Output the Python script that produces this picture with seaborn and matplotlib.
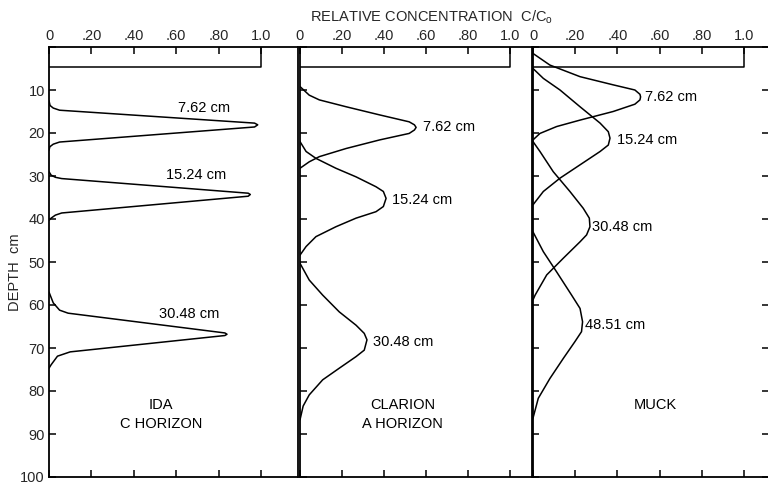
import matplotlib
matplotlib.use("Agg")
import matplotlib.pyplot as plt
import seaborn as sns
import pandas as pd

# ---------------- data ----------------
conc_ticks = [0, 0.2, 0.4, 0.6, 0.8, 1.0]
conc_ticklabels = ["0", ".20", ".40", ".60", ".80", "1.0"]
depth_ticks = [0, 10, 20, 30, 40, 50, 60, 70, 80, 90, 100]
depth_ticklabels = ["", "10", "20", "30", "40", "50", "60", "70", "80", "90", "100"]

# applied input pulse (box at top of each panel)
box_conc = [0.0, 1.0, 1.0]
box_depth = [4.6, 4.6, 0.0]

# IDA C horizon
ida_762_depth = [12.5, 13.6, 14.2, 14.7, 17.7, 18.1, 18.6, 22.1, 22.6, 23.2, 24.0]
ida_762_conc = [0.0, 0.005, 0.02, 0.05, 0.97, 0.985, 0.97, 0.05, 0.02, 0.004, 0.0]
ida_1524_depth = [29.0, 29.8, 30.3, 30.6, 34.0, 34.3, 34.7, 38.6, 39.1, 39.8, 40.3]
ida_1524_conc = [0.0, 0.01, 0.03, 0.06, 0.94, 0.95, 0.94, 0.06, 0.03, 0.01, 0.0]
ida_3048_depth = [57.0, 59.5, 61.2, 61.9, 66.5, 66.8, 67.1, 70.9, 71.9, 73.9, 74.7]
ida_3048_conc = [0.0, 0.02, 0.05, 0.09, 0.83, 0.84, 0.83, 0.10, 0.04, 0.01, 0.0]

# CLARION A horizon
cla_762_depth = [9.2, 11.2, 12.3, 13.9, 15.8, 17.4, 18.1, 18.7, 19.3, 20.1, 21.6, 23.6, 25.5, 26.7, 28.2]
cla_762_conc = [0.0, 0.044, 0.092, 0.22, 0.38, 0.52, 0.545, 0.553, 0.545, 0.52, 0.38, 0.22, 0.092, 0.044, 0.0]
cla_1524_depth = [22.0, 24.3, 25.9, 28.2, 30.2, 32.5, 33.6, 35.2, 37.1, 38.3, 39.8, 41.8, 44.1, 46.4, 48.4]
cla_1524_conc = [0.0, 0.029, 0.076, 0.171, 0.267, 0.362, 0.397, 0.41, 0.397, 0.362, 0.267, 0.171, 0.076, 0.029, 0.0]
cla_3048_depth = [50.3, 54.2, 57.7, 61.6, 64.7, 66.6, 68.1, 70.5, 72.0, 74.7, 77.4, 80.9, 83.5, 86.7]
cla_3048_conc = [0.0, 0.044, 0.108, 0.187, 0.267, 0.306, 0.319, 0.306, 0.267, 0.187, 0.108, 0.044, 0.015, 0.0]

# MUCK
muck_762_depth = [1.5, 4.2, 6.9, 8.8, 10.0, 11.0, 11.6, 12.3, 13.3, 15.0, 17.0, 18.5, 20.1, 21.6]
muck_762_conc = [0.0, 0.08, 0.223, 0.38, 0.483, 0.507, 0.51, 0.507, 0.483, 0.38, 0.223, 0.112, 0.033, 0.0]
muck_1524_depth = [5.0, 7.3, 10.0, 13.9, 17.7, 19.7, 21.2, 22.8, 24.3, 27.4, 30.5, 33.6, 36.7]
muck_1524_conc = [0.0, 0.049, 0.128, 0.223, 0.318, 0.357, 0.365, 0.357, 0.318, 0.223, 0.128, 0.049, 0.0]
muck_3048_depth = [22.0, 24.3, 29.0, 33.6, 37.5, 39.8, 41.8, 43.7, 45.3, 49.1, 53.0, 57.7, 58.8]
muck_3048_conc = [0.0, 0.033, 0.096, 0.175, 0.238, 0.267, 0.27, 0.254, 0.223, 0.144, 0.065, 0.01, 0.0]
muck_4851_depth = [43.0, 47.6, 52.3, 57.7, 60.8, 63.9, 66.2, 68.5, 72.4, 77.1, 81.7, 86.3]
muck_4851_conc = [0.0, 0.049, 0.112, 0.183, 0.223, 0.235, 0.23, 0.199, 0.144, 0.08, 0.025, 0.0]

panels = [
    {"curves": [(ida_762_depth, ida_762_conc, "7.62 cm", 0.61, 14.3),
                (ida_1524_depth, ida_1524_conc, "15.24 cm", 0.55, 29.8),
                (ida_3048_depth, ida_3048_conc, "30.48 cm", 0.52, 62.0)],
     "name": ("IDA", "C HORIZON"), "name_x": 0.53,
     "xmax": 1.175, "rect": [49, 249]},
    {"curves": [(cla_762_depth, cla_762_conc, "7.62 cm", 0.585, 18.6),
                (cla_1524_depth, cla_1524_conc, "15.24 cm", 0.44, 35.6),
                (cla_3048_depth, cla_3048_conc, "30.48 cm", 0.35, 68.6)],
     "name": ("CLARION", "A HORIZON"), "name_x": 0.49,
     "xmax": 1.105, "rect": [300, 232]},
    {"curves": [(muck_762_depth, muck_762_conc, "7.62 cm", 0.53, 11.6),
                (muck_1524_depth, muck_1524_conc, "15.24 cm", 0.40, 21.6),
                (muck_3048_depth, muck_3048_conc, "30.48 cm", 0.28, 41.9),
                (muck_4851_depth, muck_4851_conc, "48.51 cm", 0.245, 64.7)],
     "name": ("MUCK",), "name_x": 0.58,
     "xmax": 1.114, "rect": [533, 235]},
]

# ---------------- plot ----------------
sns.set_theme(style="white")
plt.rcParams["font.family"] = ["Liberation Sans", "DejaVu Sans"]
plt.rcParams["axes.linewidth"] = 1.3

W, H = 768, 484
fig = plt.figure(figsize=(W / 100, H / 100), dpi=100)
top_px, bot_px = 47, 477
fs = 10.5

for i, p in enumerate(panels):
    left, width = p["rect"]
    ax = fig.add_axes([left / W, (H - bot_px) / H, width / W, (bot_px - top_px) / H])
    box_df = pd.DataFrame({"conc": box_conc, "depth": box_depth})
    sns.lineplot(data=box_df, x="conc", y="depth", sort=False, estimator=None,
                 color="black", lw=1.1, ax=ax)
    for depth, conc, lab, lx, ly in p["curves"]:
        df = pd.DataFrame({"conc": conc, "depth": depth})
        sns.lineplot(data=df, x="conc", y="depth", sort=False, estimator=None,
                     color="black", lw=1.1, ax=ax)
        ax.text(lx, ly, lab, ha="left", va="center", fontsize=fs, color="black")
    for k, nm in enumerate(p["name"]):
        ax.text(p["name_x"], 83.3 + 4.4 * k, nm, ha="center", va="center",
                fontsize=fs, color="black")
    ax.set_xlim(0, p["xmax"])
    ax.set_ylim(100, 0)
    ax.set_xlabel("")
    ax.set_ylabel("")
    ax.set_xticks(conc_ticks)
    ax.set_xticklabels(conc_ticklabels, fontsize=fs)
    ax.tick_params(axis="x", top=True, bottom=True, labeltop=True, labelbottom=False,
                   direction="in", length=5, width=1.1, pad=3, color="black")
    ax.set_yticks(depth_ticks)
    if i == 0:
        ax.set_yticklabels(depth_ticklabels, fontsize=fs)
        ax.tick_params(axis="y", left=True, labelleft=True, direction="in",
                       length=5, width=1.1, pad=3, color="black")
    else:
        ax.tick_params(axis="y", left=True, labelleft=False, direction="in",
                       length=5, width=1.1, color="black")
    if i == 2:
        ax.spines["right"].set_visible(False)
        ax.tick_params(axis="y", right=True, direction="in", length=4, width=1.1)
    for s in ax.spines.values():
        s.set_color("black")
    ax.set_facecolor("white")

fig.text(432 / W, 1 - 17 / H, r"RELATIVE CONCENTRATION  C/C$_\mathregular{o}$",
         ha="center", va="center", fontsize=fs)
fig.text(15 / W, 1 - 272 / H, "DEPTH  cm", rotation=90, ha="center", va="center",
         fontsize=fs)

fig.savefig("out.png", dpi=100, facecolor="white")
